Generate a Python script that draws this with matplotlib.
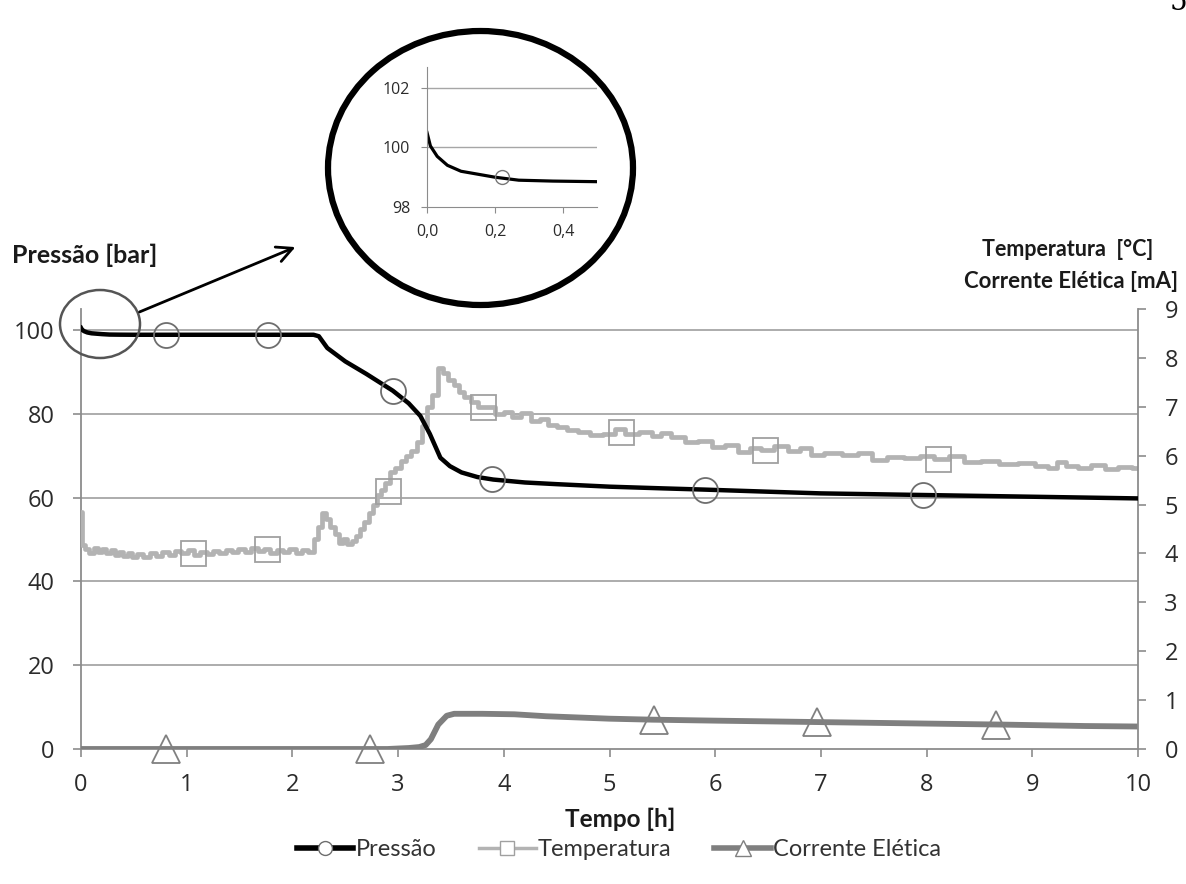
import matplotlib
matplotlib.use("Agg")
import matplotlib.pyplot as plt
from matplotlib.lines import Line2D
from matplotlib.patches import Ellipse, FancyArrowPatch

# Pressure [bar] (left axis)
t_press = [0.0, 0.01, 0.03, 0.06, 0.10, 0.15, 0.20, 0.27, 0.37, 0.50, 1.0, 1.5, 2.0, 2.2,
           2.25, 2.33, 2.5, 2.7, 2.95, 3.1, 3.21, 3.30, 3.40, 3.49, 3.6, 3.75, 3.9, 4.2,
           4.5, 5.0, 5.5, 5.9, 6.5, 7.0, 7.5, 8.0, 9.0, 10.0]
pressao = [100.5, 100.05, 99.7, 99.4, 99.2, 99.1, 99.0, 98.9, 98.87, 98.85, 98.85, 98.85,
           98.85, 98.85, 98.5, 95.7, 92.5, 89.5, 85.5, 82.5, 79.5, 75.2, 69.5, 67.5, 66.0,
           64.9, 64.3, 63.6, 63.2, 62.6, 62.2, 61.9, 61.4, 61.0, 60.8, 60.6, 60.2, 59.8]
t_press_mk = [0.80, 1.77, 2.95, 3.89, 5.90, 7.97]
pressao_mk = [98.85, 98.85, 85.5, 64.4, 61.9, 60.6]

# Temperature (right axis)
t_temp = [0.00, 0.02, 0.06, 0.10, 0.14, 0.18, 0.22, 0.26, 0.30, 0.34, 0.38, 0.42, 0.46,
          0.50, 0.56, 0.62, 0.68, 0.74, 0.80, 0.86, 0.92, 0.98, 1.04, 1.10, 1.16, 1.22,
          1.28, 1.34, 1.40, 1.46, 1.52, 1.58, 1.64, 1.70, 1.76, 1.82, 1.88, 1.94, 2.00,
          2.06, 2.12, 2.18, 2.22, 2.26, 2.30, 2.34, 2.38, 2.42, 2.46, 2.50, 2.54, 2.58,
          2.62, 2.66, 2.70, 2.74, 2.78, 2.82, 2.86, 2.90, 2.95, 3.00, 3.05, 3.10, 3.15,
          3.20, 3.25, 3.30, 3.35, 3.40, 3.45, 3.50, 3.55, 3.60, 3.65, 3.72, 3.80, 3.88,
          3.96, 4.04, 4.12, 4.21, 4.30, 4.38, 4.46, 4.55, 4.64, 4.76, 4.88, 5.00, 5.10,
          5.20, 5.35, 5.45, 5.52, 5.65, 5.77, 5.90, 6.03, 6.15, 6.28, 6.38, 6.49, 6.62,
          6.75, 6.85, 6.96, 7.10, 7.29, 7.42, 7.55, 7.70, 7.88, 8.00, 8.14, 8.28, 8.43,
          8.60, 8.77, 8.95, 9.10, 9.19, 9.28, 9.36, 9.50, 9.62, 9.75, 9.88, 10.0]
temperatura = [4.85, 4.17, 4.10, 4.00, 4.12, 4.03, 4.10, 4.00, 4.08, 3.97, 4.03, 3.95, 4.00,
               3.93, 3.98, 3.93, 4.00, 3.95, 4.03, 3.97, 4.05, 4.00, 4.07, 3.97, 4.03, 3.98,
               4.05, 4.00, 4.07, 4.02, 4.10, 4.03, 4.12, 4.05, 4.10, 4.00, 4.08, 4.02, 4.10,
               4.00, 4.08, 4.02, 4.30, 4.55, 4.83, 4.70, 4.55, 4.40, 4.22, 4.30, 4.20, 4.25,
               4.35, 4.50, 4.65, 4.83, 5.00, 5.20, 5.30, 5.45, 5.66, 5.75, 5.90, 6.00, 6.10,
               6.27, 6.60, 7.00, 7.25, 7.79, 7.70, 7.55, 7.45, 7.30, 7.20, 7.10, 6.99, 7.00,
               6.85, 6.90, 6.80, 6.87, 6.70, 6.75, 6.62, 6.58, 6.52, 6.48, 6.42, 6.45, 6.55,
               6.45, 6.48, 6.40, 6.46, 6.38, 6.28, 6.30, 6.18, 6.22, 6.08, 6.16, 6.12, 6.20,
               6.10, 6.16, 6.02, 6.05, 6.01, 6.05, 5.91, 5.97, 5.95, 5.99, 5.93, 6.00, 5.87,
               5.90, 5.82, 5.86, 5.78, 5.75, 5.87, 5.78, 5.75, 5.80, 5.73, 5.76, 5.74]
t_temp_mk = [1.06, 1.76, 2.90, 3.80, 5.11, 6.47, 8.11]
temperatura_mk = [4.0, 4.1, 5.28, 7.0, 6.48, 6.12, 5.93]

# Current (right axis)
t_corr = [0.0, 2.9, 3.1, 3.2, 3.26, 3.31, 3.38, 3.46, 3.53, 3.8, 4.1, 4.4, 5.0, 5.4,
          6.0, 7.0, 8.0, 8.7, 9.5, 10.0]
corrente = [0.0, 0.0, 0.02, 0.04, 0.08, 0.2, 0.5, 0.68, 0.72, 0.72, 0.71, 0.67, 0.62,
            0.6, 0.58, 0.55, 0.52, 0.5, 0.47, 0.46]
t_corr_mk = [0.80, 2.73, 5.42, 6.96, 8.66]
corrente_mk = [0.0, 0.0, 0.6, 0.55, 0.5]

x_ticks = list(range(0, 11))
left_ticks = [0, 20, 40, 60, 80, 100]
right_ticks = list(range(0, 10))
inset_xticks = [0.0, 0.2, 0.4]
inset_xlabels = ["0,0", "0,2", "0,4"]
inset_yticks = [98, 100, 102]

SANS = "Lato"
TICKF = "Open Sans"
GRID = "#a6a6a6"
AXC = "#8c8c8c"
TXT = "#2b2b2b"

fig = plt.figure(figsize=(11.86, 8.84), dpi=100)
pos = [81 / 1186, 1 - 749 / 884, (1138 - 81) / 1186, (749 - 309) / 884]

ax = fig.add_axes(pos)
ax2 = ax.twinx()
ax3 = fig.add_axes(pos, sharex=ax, sharey=ax)
ax3.axis("off")

ax.set_xlim(0, 10)
ax.set_ylim(0, 105)
ax2.set_ylim(0, 9)

for y in left_ticks[1:]:
    ax.axhline(y, color=GRID, lw=1.3, zorder=0)

for s in ["top", "right"]:
    ax.spines[s].set_visible(False)
ax.spines["left"].set_color(AXC)
ax.spines["bottom"].set_color(AXC)
ax.spines["left"].set_linewidth(1.3)
ax.spines["bottom"].set_linewidth(1.3)
for s in ["top", "left", "bottom"]:
    ax2.spines[s].set_visible(False)
ax2.spines["right"].set_color(AXC)
ax2.spines["right"].set_linewidth(1.3)

ax.set_xticks(x_ticks)
ax.set_yticks(left_ticks)
ax2.set_yticks(right_ticks)
ax.tick_params(axis="y", direction="out", length=6, width=1.2, color=AXC,
               labelsize=17, labelcolor=TXT, pad=13)
ax.tick_params(axis="x", direction="out", length=6, width=1.2, color=AXC,
               labelsize=17, labelcolor=TXT, pad=11)
ax2.tick_params(axis="y", direction="out", length=6, width=1.2, color=AXC,
                labelsize=17, labelcolor=TXT, pad=13)
for lab in ax.get_xticklabels() + ax.get_yticklabels() + ax2.get_yticklabels():
    lab.set_family(TICKF)

# lines
ax2.plot(t_temp, temperatura, color="#b3b3b3", lw=3.4, drawstyle="steps-mid", zorder=2)
ax2.plot(t_temp_mk, temperatura_mk, ls="none", marker="s", ms=18, mfc="none",
         mec="#a0a0a0", mew=1.3, zorder=3)
ax2.plot(t_corr, corrente, color="#7f7f7f", lw=4.2, zorder=2)
ax2.plot(t_corr_mk, corrente_mk, ls="none", marker="^", ms=20, mfc="none",
         mec="#808080", mew=1.3, zorder=3, clip_on=False)
ax3.plot(t_press, pressao, color="black", lw=3.2, zorder=4)
ax3.plot(t_press_mk, pressao_mk, ls="none", marker="o", ms=18, mfc="none",
         mec="#6e6e6e", mew=1.3, zorder=5)

# axis titles
fig.text(12 / 1186, 1 - 255 / 884, "Pressão [bar]", family=SANS, weight="bold",
         fontsize=18, va="center", ha="left", color="#1a1a1a")
fig.text(1068 / 1186, 1 - 250 / 884, "Temperatura  [°C]", family=SANS, weight="bold",
         fontsize=15.5, va="center", ha="center", color="#1a1a1a")
fig.text(1071 / 1186, 1 - 281 / 884, "Corrente Elética [mA]", family=SANS, weight="bold",
         fontsize=16, va="center", ha="center", color="#1a1a1a")
fig.text(620 / 1186, 1 - 819 / 884, "Tempo [h]", family=SANS, weight="bold",
         fontsize=17.5, va="center", ha="center", color="#1a1a1a")
fig.text(1170 / 1186, 1 - 10 / 884, "5", family="DejaVu Serif", fontsize=20,
         va="baseline", ha="left", color="black")

# legend
handles = [
    Line2D([], [], color="black", lw=4, marker="o", ms=10, mfc="white", mec="#6e6e6e"),
    Line2D([], [], color="#b3b3b3", lw=2.5, marker="s", ms=10, mfc="white", mec="#a0a0a0"),
    Line2D([], [], color="#7f7f7f", lw=4, marker="^", ms=11, mfc="white", mec="#808080"),
]
fig.legend(handles, ["Pressão", "Temperatura", "Corrente Elética"], loc="center",
           bbox_to_anchor=(619 / 1186, 1 - 850 / 884), ncol=3, frameon=False,
           prop={"family": SANS, "size": 17}, labelcolor="#333333",
           handlelength=2.4, handletextpad=0.1, columnspacing=1.8)

# zoom annotation
fig.add_artist(Ellipse((100 / 1186, 1 - 324 / 884), 80 / 1186, 68 / 884,
                       transform=fig.transFigure, fill=False, ec="#555555", lw=1.8))
fig.add_artist(FancyArrowPatch((137 / 1186, 1 - 313 / 884), (298 / 1186, 1 - 246 / 884),
                               transform=fig.transFigure, arrowstyle="->",
                               mutation_scale=28, lw=2, color="black"))
fig.add_artist(Ellipse((480.5 / 1186, 1 - 168 / 884), 305 / 1186, 274 / 884,
                       transform=fig.transFigure, fill=False, ec="black", lw=4.5))

# inset
axi = fig.add_axes([427 / 1186, 1 - 207 / 884, 170 / 1186, 140 / 884])
axi.set_xlim(0, 0.5)
axi.set_ylim(98, 102.7)
for y in inset_yticks[1:]:
    axi.axhline(y, color=GRID, lw=1.0, zorder=0)
for s in ["top", "right"]:
    axi.spines[s].set_visible(False)
axi.spines["left"].set_color(AXC)
axi.spines["bottom"].set_color(AXC)
axi.set_xticks(inset_xticks)
axi.set_xticklabels(inset_xlabels)
axi.set_yticks(inset_yticks)
axi.tick_params(axis="y", direction="out", length=4, color=AXC, labelsize=11.5,
                labelcolor=TXT, pad=8)
axi.tick_params(axis="x", direction="out", length=4, color=AXC, labelsize=11.5,
                labelcolor=TXT, pad=8)
for lab in axi.get_xticklabels() + axi.get_yticklabels():
    lab.set_family(TICKF)
axi.plot(t_press, pressao, color="black", lw=2.3)
axi.plot([0.22], [99.0], ls="none", marker="o", ms=10, mfc="none", mec="#777777", mew=1)

fig.savefig("out.png", dpi=100)
